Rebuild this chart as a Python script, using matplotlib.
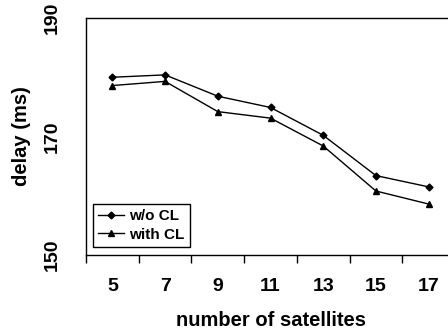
import matplotlib
matplotlib.use("Agg")
import matplotlib.pyplot as plt
import numpy as np

categories = ["5", "7", "9", "11", "13", "15", "17"]
wo_cl = [180.0, 180.4, 176.8, 174.9, 170.2, 163.4, 161.5]
with_cl = [178.6, 179.3, 174.2, 173.1, 168.4, 160.8, 158.6]
yticks = [150, 170, 190]

plt.rcParams['font.family'] = ['Liberation Sans', 'DejaVu Sans']
plt.rcParams['font.weight'] = 'bold'

fig = plt.figure(figsize=(4.48, 3.32), dpi=100)
ax = fig.add_axes([86/448, 1-255/332, (455-86)/448, (255-18)/332])

x = np.arange(len(categories))
ax.plot(x, wo_cl, color='black', lw=1.0, marker='D', ms=3.5, label='w/o CL')
ax.plot(x, with_cl, color='black', lw=1.0, marker='^', ms=5, label='with CL')

ax.set_xlim(-0.5, len(categories) - 0.5)
ax.set_ylim(150, 190)
ax.set_xticks(x)
ax.set_xticklabels(categories, fontsize=14, fontweight='bold')
ax.set_xticks(np.arange(-0.5, len(categories)), minor=True)
ax.tick_params(axis='x', which='major', length=0, pad=16.5)
ax.tick_params(axis='x', which='minor', length=6, width=1, direction='out', color='black')
ax.set_yticks(yticks)
ax.set_yticklabels([str(v) for v in yticks], fontsize=14, fontweight='bold', rotation=90, va='center')
ax.tick_params(axis='y', length=0, pad=18.5)

for s in ['left', 'top', 'bottom', 'right']:
    ax.spines[s].set_color('black')
    ax.spines[s].set_linewidth(1.0)

ax.set_xlabel('number of satellites', fontsize=14.5, fontweight='bold')
ax.xaxis.label.set_va('center')
ax.xaxis.set_label_coords(0.5, (255-320)/237)
ax.set_ylabel('delay (ms)', fontsize=14.5, fontweight='bold')
ax.yaxis.label.set_va('center')
ax.yaxis.set_label_coords((22-86)/369, 0.5)

leg = ax.legend(loc='lower left', bbox_to_anchor=(7/369, 8/237), borderaxespad=0,
                fancybox=False, edgecolor='black', framealpha=1,
                handlelength=1.7, handletextpad=0.3, borderpad=0.35, labelspacing=0.3,
                prop={'weight': 'bold', 'size': 11})
leg.get_frame().set_linewidth(1.0)

fig.savefig('out.png', dpi=100)
